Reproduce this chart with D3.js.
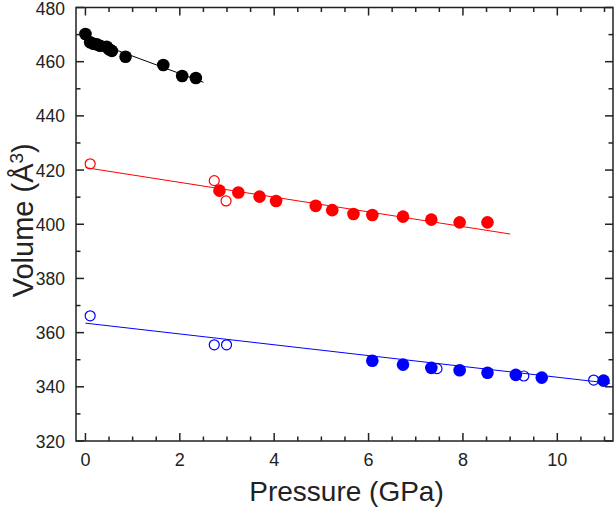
<!DOCTYPE html>
<html lang="en">
<head>
    <meta charset="UTF-8">
    <title>Volume vs Pressure</title>
    <script type="text/javascript" src="https://d3js.org/d3.v7.min.js"></script>
    <style>
        body{ margin:0; background-color:white; }
        text{ font-family:"Liberation Sans", Arial, sans-serif; fill:#222; }
    </style>
</head>
<body>
    <script type="text/javascript">
        var width=614;
        var height=510;

        // data
        var blackFilled=[[0.00,470.2],[0.10,467.2],[0.17,466.6],[0.24,466.4],[0.31,465.9],[0.45,465.5],
                         [0.50,464.6],[0.56,464.0],[0.85,461.8],[1.65,458.8],[2.05,454.7],[2.34,454.0]];
        var blackFit=[[0.0,468.5],[2.5,452.4]];

        var redOpen=[[0.10,422.3],[2.73,416.1],[2.98,408.6]];
        var redFilled=[[2.84,412.4],[3.24,411.7],[3.69,410.2],[4.04,408.6],[4.88,406.8],[5.23,405.2],
                       [5.68,403.8],[6.08,403.4],[6.73,402.8],[7.33,401.7],[7.93,400.7],[8.52,400.7]];
        var redFit=[[0.0,420.9],[9.0,396.4]];

        var blueOpen=[[0.10,366.2],[2.73,355.5],[2.99,355.5],[7.45,346.7],[9.29,344.0],[10.77,342.5]];
        var blueFilled=[[6.08,349.6],[6.73,348.2],[7.33,347.0],[7.93,346.1],[8.52,345.2],[9.12,344.4],
                        [9.67,343.4],[10.98,342.3]];
        var blueFit=[[0.0,363.5],[11.12,341.3]];

        var xTicks=[0,2,4,6,8,10];
        var yTicks=[320,340,360,380,400,420,440,460,480];

        var margin={left:76,right:1,top:7.5,bottom:69};

        var x=d3.scaleLinear().domain([-0.2,11.18]).range([margin.left,width-margin.right]);
        var y=d3.scaleLinear().domain([320,480]).range([height-margin.bottom,margin.top]);

        var svg=d3.select("body").append("svg")
                .attr("width",width)
                .attr("height",height);

        // clip to plot area
        svg.append("clipPath").attr("id","clip")
            .append("rect")
            .attr("x",margin.left).attr("y",margin.top)
            .attr("width",width-margin.left-margin.right)
            .attr("height",height-margin.top-margin.bottom);

        var plot=svg.append("g").attr("clip-path","url(#clip)");

        var line=d3.line().x(function(d){return x(d[0]);}).y(function(d){return y(d[1]);});

        // fit lines
        plot.append("path").attr("d",line(blackFit)).attr("stroke","#000").attr("stroke-width",1).attr("fill","none");
        plot.append("path").attr("d",line(redFit)).attr("stroke","#ff0000").attr("stroke-width",1).attr("fill","none");
        plot.append("path").attr("d",line(blueFit)).attr("stroke","#0000ff").attr("stroke-width",1).attr("fill","none");

        function drawPoints(data,color,filled)
        {
            plot.selectAll(null)
                .data(data)
                .enter()
                .append("circle")
                .attr("cx",function(d){return x(d[0]);})
                .attr("cy",function(d){return y(d[1]);})
                .attr("r",filled?6.3:5)
                .attr("fill",filled?color:"white")
                .attr("fill-opacity",filled?1:0)
                .attr("stroke",color)
                .attr("stroke-width",filled?0:1.2);
        }
        drawPoints(blackFilled,"#000",true);
        drawPoints(redOpen,"#ff0000",false);
        drawPoints(redFilled,"#ff0000",true);
        drawPoints(blueOpen,"#0000ff",false);
        drawPoints(blueFilled,"#0000ff",true);

        // axes with inward ticks
        var xMinor=d3.range(0,11.01,0.5);
        var yMinor=d3.range(320,480.1,10);
        var x0=margin.left, x1=width-margin.right, y0=height-margin.bottom, y1=margin.top;
        var axes=svg.append("g").attr("stroke","#222").attr("stroke-width",1.5);

        xMinor.forEach(function(v){
            var len=(v%2===0)?8:4.5;
            axes.append("line").attr("x1",x(v)).attr("x2",x(v)).attr("y1",y0).attr("y2",y0-len);
            axes.append("line").attr("x1",x(v)).attr("x2",x(v)).attr("y1",y1).attr("y2",y1+len);
        });
        yMinor.forEach(function(v){
            var len=(v%20===0)?8:4.5;
            axes.append("line").attr("y1",y(v)).attr("y2",y(v)).attr("x1",x0).attr("x2",x0+len);
            axes.append("line").attr("y1",y(v)).attr("y2",y(v)).attr("x1",x1).attr("x2",x1-len);
        });
        axes.append("rect")
            .attr("x",x0).attr("y",y1)
            .attr("width",x1-x0).attr("height",y0-y1)
            .attr("fill","none");

        // tick labels
        svg.selectAll(".xl").data(xTicks).enter().append("text")
            .attr("x",function(d){return x(d);})
            .attr("y",y0+25)
            .attr("text-anchor","middle")
            .attr("font-size",18)
            .text(function(d){return d;});
        svg.selectAll(".yl").data(yTicks).enter().append("text")
            .attr("x",x0-11)
            .attr("y",function(d){return y(d)+6.5;})
            .attr("dy",function(d){return d===480?"0.8":"0";})
            .attr("text-anchor","end")
            .attr("font-size",17.5)
            .text(function(d){return d;});

        // axis titles
        svg.append("text")
            .attr("x",(x0+x1)/2+2)
            .attr("y",height-9)
            .attr("text-anchor","middle")
            .attr("font-size",28)
            .text("Pressure (GPa)");

        var yt=svg.append("text")
            .attr("transform","translate(33,"+((y0+y1)/2-4)+") rotate(-90)")
            .attr("text-anchor","middle")
            .attr("font-size",29);
        yt.append("tspan").text("Volume (Å");
        yt.append("tspan").attr("baseline-shift","super").attr("font-size",19).text("3");
        yt.append("tspan").text(")");
    </script>
</body>
</html>
